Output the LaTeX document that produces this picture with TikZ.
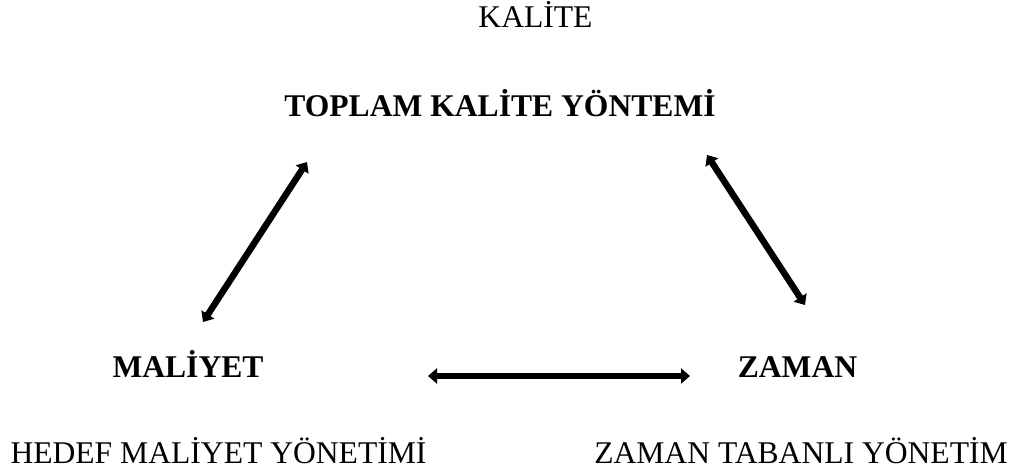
\documentclass[tikz,border=0pt]{standalone}
\usepackage{fontspec}
\setmainfont{Liberation Serif}
\usepackage{tikz}
\usetikzlibrary{arrows.meta}

\begin{document}
\begin{tikzpicture}[
  x=1pt, y=-1pt,
  label/.style={anchor=base, inner sep=0pt, font=\fontsize{31.6}{38}\selectfont},
  head/.style={label, font=\fontsize{31.6}{38}\selectfont\bfseries},
  link/.style={{Triangle[length=9pt, width=15pt]}-{Triangle[length=9pt, width=15pt]}, line width=6.5pt}
]
  \useasboundingbox (0,0) rectangle (1016,472);

  \node[label] (kalite) at (535.5,27) {KAL\.{I}TE};
  \node[head] (tky) at (500,116) {TOPLAM KAL\.{I}TE Y\"ONTEM\.{I}};
  \node[head] (maliyet) at (188,377) {MAL\.{I}YET};
  \node[head] (zaman) at (797.5,377) {ZAMAN};
  \node[label] (hmy) at (218.5,463) {HEDEF MAL\.{I}YET Y\"ONET\.{I}M\.{I}};
  \node[label] (zty) at (801,463) {ZAMAN TABANLI Y\"ONET\.{I}M};

  % arrow ends
  \coordinate (l1) at (307,162);
  \coordinate (l2) at (203,322);
  \coordinate (r1) at (707,155);
  \coordinate (r2) at (805,305);
  \coordinate (b1) at (428,376);
  \coordinate (b2) at (690,376);

  \draw[link] (l1) -- (l2);
  \draw[link] (r1) -- (r2);
  \draw[link] (b1) -- (b2);
\end{tikzpicture}
\end{document}
